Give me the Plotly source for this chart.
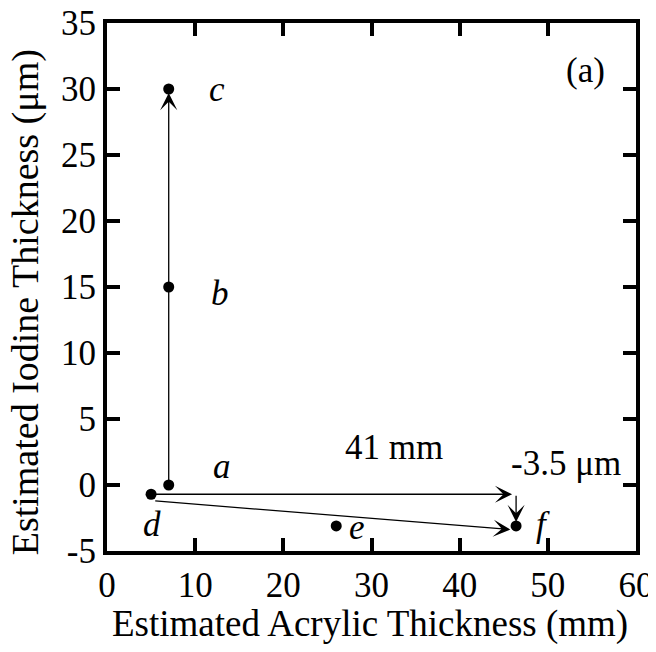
import plotly.graph_objects as go

# Data
pt_labels = ["a", "b", "c", "d", "e", "f"]
acrylic = [7.0, 7.0, 7.0, 5.0, 26.0, 46.4]
iodine = [0.0, 15.0, 30.0, -0.7, -3.1, -3.1]

# arrows: (x_start, y_start, x_end, y_end)
arrows = [
    (7.0, 0.0, 7.0, 30.0),
    (5.0, -0.7, 46.4, -0.7),
    (46.4, -0.7, 46.4, -3.1),
    (5.3, -1.2, 46.2, -3.4),
]

label_pos = {"a": (13.0, 1.4), "b": (12.8, 14.5), "c": (12.5, 30.0),
             "d": (5.1, -3.0), "e": (28.3, -3.2), "f": (49.4, -3.0)}

xticks = [0, 10, 20, 30, 40, 50, 60]
yticks = [-5, 0, 5, 10, 15, 20, 25, 30, 35]

x_title = "Estimated Acrylic Thickness (mm)"
y_title = "Estimated Iodine Thickness (μm)"

FONT = "Liberation Serif"
FS = 35

fig = go.Figure()
fig.add_trace(go.Scatter(x=acrylic, y=iodine, mode="markers",
                         marker=dict(color="black", size=11),
                         hoverinfo="skip", showlegend=False))

for (x0, y0, x1, y1) in arrows:
    fig.add_annotation(x=x1, y=y1, ax=x0, ay=y0, xref="x", yref="y",
                       axref="x", ayref="y", text="", showarrow=True,
                       arrowhead=3, arrowsize=2.2, arrowwidth=1.3,
                       arrowcolor="black", standoff=4)

for lab in pt_labels:
    lx, ly = label_pos[lab]
    fig.add_annotation(x=lx, y=ly, xref="x", yref="y", text=f"<i>{lab}</i>",
                       showarrow=False, font=dict(family=FONT, size=FS, color="black"))

fig.add_annotation(x=32.5, y=2.85, xref="x", yref="y", text="41 mm", showarrow=False,
                   font=dict(family=FONT, size=FS, color="black"))
fig.add_annotation(x=52.1, y=1.6, xref="x", yref="y", text="-3.5 μm", showarrow=False,
                   font=dict(family=FONT, size=FS, color="black"))
fig.add_annotation(x=54.3, y=31.4, xref="x", yref="y", text="(a)", showarrow=False,
                   font=dict(family=FONT, size=FS, color="black"))

# axis titles
fig.add_annotation(x=0.497, y=-0.139, xref="paper", yref="paper", text=x_title,
                   xanchor="center", yanchor="middle",
                   showarrow=False, font=dict(family=FONT, size=37, color="black"))
fig.add_annotation(x=-0.155, y=0.471, xref="paper", yref="paper", text=y_title,
                   xanchor="center", yanchor="middle",
                   textangle=-90, showarrow=False,
                   font=dict(family=FONT, size=38, color="black"))

axis_common = dict(showline=True, linecolor="black", linewidth=4, mirror="ticks",
                   ticks="inside", ticklen=13, tickwidth=4, tickcolor="black",
                   showgrid=False, zeroline=False, ticklabeloverflow="allow",
                   automargin=False,
                   tickfont=dict(family=FONT, size=FS, color="black"))

fig.update_xaxes(range=[0, 60], tickvals=xticks, ticktext=[str(v) for v in xticks],
                 **axis_common)
fig.update_yaxes(range=[-5, 35], tickvals=yticks, ticktext=[str(v) for v in yticks],
                 **axis_common)

fig.update_layout(width=640, height=636, plot_bgcolor="white", paper_bgcolor="white",
                  margin=dict(l=99, r=12, t=15, b=93, autoexpand=False), showlegend=False)

fig.write_html("out.html")
